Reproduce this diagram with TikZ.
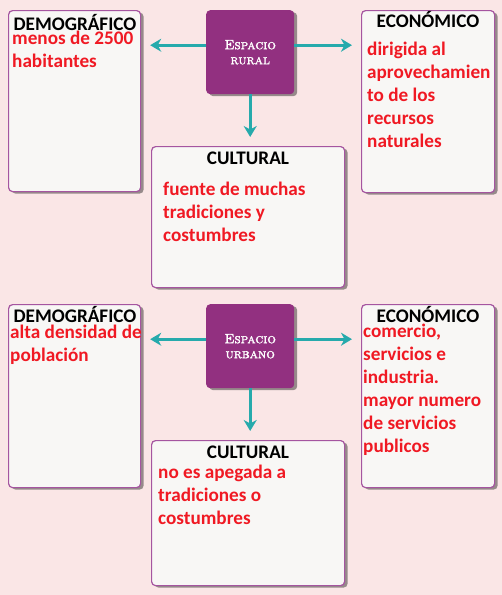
\documentclass[tikz,border=0pt]{standalone}
\usepackage{fontspec}
\setsansfont{Carlito}
\newfontfamily\espfont{lmromancaps10-regular.otf}[FakeBold=2]
\usetikzlibrary{arrows.meta,shadows}
\definecolor{fondo}{RGB}{250,230,230}
\definecolor{papel}{RGB}{248,247,245}
\definecolor{borde}{RGB}{165,85,160}
\definecolor{morado}{RGB}{146,48,128}
\definecolor{turquesa}{RGB}{38,170,172}
\definecolor{rojo}{RGB}{240,25,35}
\newcommand{\alto}{\rule{0pt}{13.5pt}}

\begin{document}
\begin{tikzpicture}[x=1pt, y=-1pt,
  caja/.style={draw=borde, line width=1.2pt, rounded corners=4pt, fill=papel,
               inner sep=0pt, anchor=north west,
               drop shadow={shadow xshift=3pt, shadow yshift=-2pt, fill=black, opacity=0.4}},
  centro/.style={fill=morado, rounded corners=4pt, anchor=north west, inner sep=0pt,
                 minimum width=88pt, minimum height=84pt, text=white, align=center,
                 font=\espfont\fontsize{13.5}{15}\selectfont,
                 drop shadow={shadow xshift=3pt, shadow yshift=-2pt, fill=black, opacity=0.4}},
  tit/.style={font=\sffamily\bfseries\fontsize{19.2}{23}\selectfont, anchor=base, inner sep=0pt},
  txt/.style={font=\sffamily\bfseries\fontsize{19.2}{23}\selectfont, text=rojo,
              align=left, anchor=north west, inner sep=0pt},
  ar/.style={-{Stealth[length=11pt, width=13pt, inset=3.5pt]}, turquesa,
             line width=3pt, shorten >=9pt}
]
  \fill[fondo] (0,0) rectangle (502,595);

  % espacio rural
  \node[centro] (cenR) at (206,10) {Espacio\\rural};
  \node[caja, minimum width=132pt, minimum height=181pt] (demR) at (8,10) {};
  \node[caja, minimum width=133pt, minimum height=182pt] (econR) at (361,10) {};
  \node[caja, minimum width=193pt, minimum height=141pt] (culR) at (151,146) {};

  \node[tit] (demRt) at (75,30) {DEMOGRÁFICO};
  \node[tit] (econRt) at (428,27) {ECONÓMICO};
  \node[tit] (culRt) at (248,164) {CULTURAL};
  \node[txt] (demRx) at (12,30.5) {\alto menos de 2500\\habitantes};
  \node[txt] (econRx) at (367,41.5) {\alto dirigida al\\aprovechamien\\to de los\\recursos\\naturales};
  \node[txt] (culRx) at (163,181.5) {\alto fuente de muchas\\tradiciones y\\costumbres};

  \coordinate (pR) at ([yshift=7pt]cenR.west);
  \coordinate (qR) at ([yshift=7pt]cenR.east);
  \draw[ar] (pR) -- (pR -| demR.east);
  \draw[ar] (qR) -- (qR -| econR.west);
  \draw[ar] (cenR.south) -- (cenR.south |- culR.north);

  % espacio urbano
  \node[centro] (cenU) at (206,304) {Espacio\\urbano};
  \node[caja, minimum width=132pt, minimum height=183pt] (demU) at (8,304) {};
  \node[caja, minimum width=133pt, minimum height=183pt] (econU) at (361,304) {};
  \node[caja, minimum width=193pt, minimum height=145pt] (culU) at (151,440) {};

  \node[tit] (demUt) at (75,322) {DEMOGRÁFICO};
  \node[tit] (econUt) at (428,322) {ECONÓMICO};
  \node[tit] (culUt) at (248,458) {CULTURAL};
  \node[txt] (demUx) at (10,324.5) {\alto alta densidad de\\población};
  \node[txt] (econUx) at (363,323.5) {\alto comercio,\\servicios e\\industria.\\mayor numero\\de servicios\\publicos};
  \node[txt] (culUx) at (158,464.5) {\alto no es apegada a\\tradiciones o\\costumbres};

  \coordinate (pU) at ([yshift=7pt]cenU.west);
  \coordinate (qU) at ([yshift=7pt]cenU.east);
  \draw[ar] (pU) -- (pU -| demU.east);
  \draw[ar] (qU) -- (qU -| econU.west);
  \draw[ar] (cenU.south) -- (cenU.south |- culU.north);
\end{tikzpicture}
\end{document}
